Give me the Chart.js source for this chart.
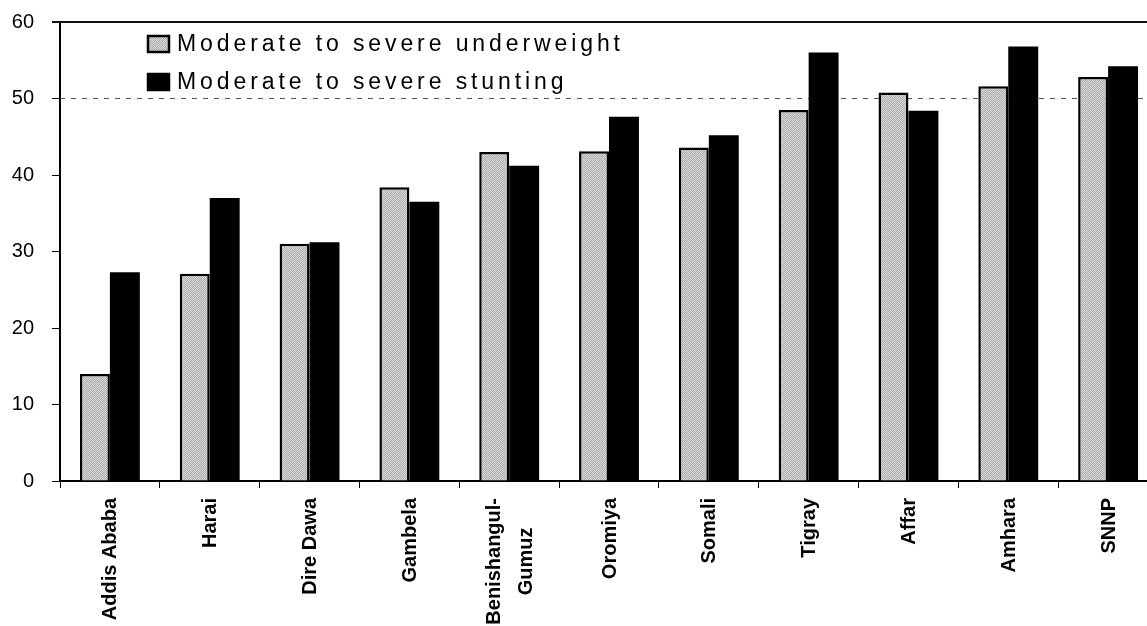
<!DOCTYPE html>
<html>
<head>
<meta charset="utf-8">
<script src="https://cdn.jsdelivr.net/npm/chart.js@4.4.1/dist/chart.umd.min.js"></script>
<style>
  html, body { margin: 0; padding: 0; background: #fff; overflow: hidden; }
  #wrap { position: relative; width: 1160px; height: 634px; margin-top: -8px; }
</style>
</head>
<body>
<div id="wrap"><canvas id="c"></canvas></div>
<script>
// Regions of Ethiopia
const regions = ['Addis Ababa', 'Harai', 'Dire Dawa', 'Gambela', ['Benishangul-', 'Gumuz'],
  'Oromiya', 'Somali', 'Tigray', 'Affar', 'Amhara', 'SNNP'];

// Prevalence (%) by region
const underweight = [14.0, 27.1, 31.0, 38.4, 43.0, 43.1, 43.6, 48.5, 50.8, 51.6, 52.8];
const stunting    = [27.3, 37.0, 31.2, 36.5, 41.2, 47.6, 45.2, 56.0, 48.4, 56.8, 54.2];

const seriesNames = ['Moderate to severe underweight', 'Moderate to severe stunting'];
const yTicks = [0, 10, 20, 30, 40, 50, 60];

const FONT = "'Liberation Sans', Arial, sans-serif";

// Stippled grey fill used for the underweight bars
function stipple() {
  const p = document.createElement('canvas');
  p.width = 4; p.height = 4;
  const g = p.getContext('2d');
  const shades = ['#d8d8d8', '#a6a6a6', '#d0d0d0', '#b2b2b2',
                  '#b6b6b6', '#dcdcdc', '#aaaaaa', '#d4d4d4',
                  '#d2d2d2', '#aeaeae', '#dadada', '#a8a8a8',
                  '#acacac', '#d6d6d6', '#b4b4b4', '#dedede'];
  for (let i = 0; i < 16; i++) {
    g.fillStyle = shades[i];
    g.fillRect(i % 4, Math.floor(i / 4), 1, 1);
  }
  return g.createPattern(p, 'repeat');
}
const greyFill = stipple();

// Dashed reference line at 50 and the solid frame line at the top
const framePlugin = {
  id: 'frame',
  beforeDatasetsDraw(chart) {
    const { ctx, chartArea, scales } = chart;
    const y50 = scales.y.getPixelForValue(50);
    ctx.save();
    ctx.strokeStyle = '#555';
    ctx.lineWidth = 1;
    ctx.setLineDash([5, 6]);
    ctx.beginPath();
    ctx.moveTo(chartArea.left, Math.round(y50) + 0.5);
    ctx.lineTo(chartArea.right, Math.round(y50) + 0.5);
    ctx.stroke();
    ctx.restore();
  },
  afterDraw(chart) {
    const { ctx, chartArea, scales } = chart;
    const yTop = scales.y.getPixelForValue(60);
    ctx.save();
    ctx.strokeStyle = '#111';
    ctx.lineWidth = 2;
    ctx.beginPath();
    ctx.moveTo(chartArea.left - 8, yTop);
    ctx.lineTo(chartArea.right, yTop);
    ctx.stroke();
    ctx.restore();
  }
};

// Category names, read bottom-to-top, lines centred on each other
const categoryLabels = {
  id: 'categoryLabels',
  afterDraw(chart) {
    const { ctx, scales } = chart;
    const xs = scales.x;
    const top = xs.top + 17;
    const lineGap = 32;
    ctx.save();
    ctx.font = 'bold 20px ' + FONT;
    ctx.fillStyle = '#000';
    ctx.textAlign = 'center';
    ctx.textBaseline = 'middle';
    chart.data.labels.forEach((lab, i) => {
      const lines = Array.isArray(lab) ? lab : [lab];
      const maxW = Math.max(...lines.map(l => ctx.measureText(l).width));
      const cx = xs.getPixelForTick(i);
      const x0 = cx - (lines.length - 1) * lineGap / 2;
      lines.forEach((line, k) => {
        ctx.save();
        ctx.translate(x0 + k * lineGap, top + maxW / 2);
        ctx.rotate(-Math.PI / 2);
        ctx.fillText(line, 0, 1);
        ctx.restore();
      });
    });
    ctx.restore();
  }
};

// Legend drawn inside the plot area, upper left
const insideLegend = {
  id: 'insideLegend',
  afterDraw(chart) {
    const { ctx, chartArea } = chart;
    const x0 = 148, y0 = chartArea.top + 22, row = 38;
    ctx.save();
    ctx.font = '23px ' + FONT;
    ctx.letterSpacing = '3.9px';
    ctx.textBaseline = 'middle';
    chart.data.datasets.forEach((ds, i) => {
      const cy = y0 + i * row;
      ctx.fillStyle = ds.backgroundColor;
      ctx.fillRect(x0, cy - 8, 21, 16);
      ctx.strokeStyle = '#000';
      ctx.lineWidth = 2.5;
      ctx.strokeRect(x0, cy - 8, 21, 16);
      ctx.fillStyle = '#000';
      ctx.fillText(ds.label, x0 + 29, cy + 1);
    });
    ctx.restore();
  }
};

new Chart(document.getElementById('c'), {
  type: 'bar',
  data: {
    labels: regions,
    datasets: [
      {
        label: seriesNames[0],
        data: underweight,
        backgroundColor: greyFill,
        borderColor: '#000',
        borderWidth: 2.5,
        borderSkipped: 'start',
        categoryPercentage: 0.6,
        barPercentage: 1.0
      },
      {
        label: seriesNames[1],
        data: stunting,
        backgroundColor: '#000',
        borderWidth: 0,
        categoryPercentage: 0.6,
        barPercentage: 1.0
      }
    ]
  },
  options: {
    responsive: true,
    maintainAspectRatio: false,
    animation: false,
    layout: { padding: { top: 13, right: 2, left: 0, bottom: 0 } },
    plugins: {
      legend: { display: false },
      tooltip: { enabled: false }
    },
    scales: {
      x: {
        offset: true,
        grid: {
          offset: true,
          drawOnChartArea: false,
          drawTicks: true,
          tickLength: 7,
          tickColor: '#000',
          lineWidth: 1
        },
        border: { display: true, color: '#000', width: 2 },
        ticks: { display: false, autoSkip: false },
        afterFit(scale) { scale.height = 145; }
      },
      y: {
        min: 0,
        max: 60,
        afterBuildTicks(scale) { scale.ticks = yTicks.map(v => ({ value: v })); },
        grid: {
          drawOnChartArea: false,
          drawTicks: true,
          tickLength: 8,
          tickColor: '#000'
        },
        border: { display: true, color: '#000', width: 2 },
        ticks: {
          padding: 18,
          color: '#000',
          font: { family: FONT, size: 20 }
        },
        afterFit(scale) { scale.width = 60; }
      }
    }
  },
  plugins: [framePlugin, categoryLabels, insideLegend]
});
</script>
</body>
</html>
